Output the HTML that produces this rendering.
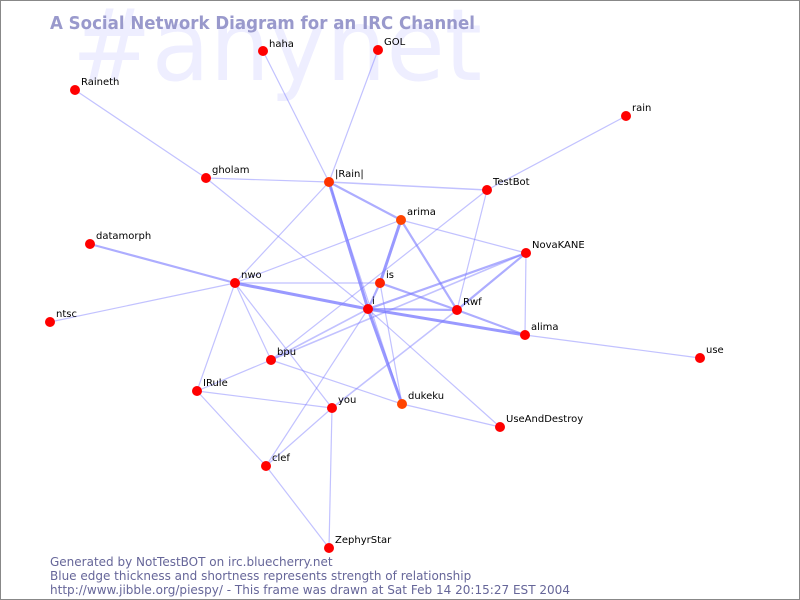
<!DOCTYPE html>
<html><head><meta charset="utf-8"><style>
html,body{margin:0;padding:0;background:#fff;}
svg{display:block;}
text{font-family:"DejaVu Sans","Liberation Sans",sans-serif;}
</style></head><body>
<svg width="800" height="600" viewBox="0 0 800 600" xmlns="http://www.w3.org/2000/svg">
<rect x="0.5" y="0.5" width="799" height="599" fill="#fff" stroke="#888" stroke-width="1"/>
<text x="72" y="80" font-size="100" fill="#eeeeff" textLength="410" lengthAdjust="spacingAndGlyphs">#anynet</text>
<text x="50" y="29" font-size="18" font-weight="bold" fill="#9999cc" textLength="425" lengthAdjust="spacingAndGlyphs">A Social Network Diagram for an IRC Channel</text>
<g stroke="#7777ff" stroke-linecap="round" fill="none">
<g stroke-opacity="0.45" stroke-width="1.2">
<line x1="263" y1="51" x2="329" y2="182"/>
<line x1="378" y1="50" x2="329" y2="182"/>
<line x1="75" y1="90" x2="206" y2="178"/>
<line x1="206" y1="178" x2="368" y2="309"/>
<line x1="626" y1="116" x2="487" y2="190"/>
<line x1="206" y1="178" x2="329" y2="182"/>
<line x1="329" y1="182" x2="235" y2="283"/>
<line x1="329" y1="182" x2="402" y2="404"/>
<line x1="487" y1="190" x2="457" y2="310"/>
<line x1="487" y1="190" x2="271" y2="360"/>
<line x1="401" y1="220" x2="235" y2="283"/>
<line x1="401" y1="220" x2="526" y2="253"/>
<line x1="50" y1="322" x2="235" y2="283"/>
<line x1="235" y1="283" x2="380" y2="283"/>
<line x1="235" y1="283" x2="271" y2="360"/>
<line x1="235" y1="283" x2="197" y2="391"/>
<line x1="235" y1="283" x2="332" y2="408"/>
<line x1="380" y1="283" x2="402" y2="404"/>
<line x1="368" y1="309" x2="500" y2="427"/>
<line x1="368" y1="309" x2="266" y2="466"/>
<line x1="526" y1="253" x2="525" y2="335"/>
<line x1="525" y1="335" x2="700" y2="358"/>
<line x1="271" y1="360" x2="197" y2="391"/>
<line x1="271" y1="360" x2="402" y2="404"/>
<line x1="402" y1="404" x2="500" y2="427"/>
<line x1="197" y1="391" x2="332" y2="408"/>
<line x1="197" y1="391" x2="266" y2="466"/>
<line x1="332" y1="408" x2="266" y2="466"/>
<line x1="332" y1="408" x2="329" y2="548"/>
<line x1="266" y1="466" x2="329" y2="548"/>
<line x1="329" y1="182" x2="487" y2="190" stroke-width="1.6"/>
<line x1="526" y1="253" x2="271" y2="360" stroke-width="1.6"/>
<line x1="457" y1="310" x2="332" y2="408" stroke-width="1.6"/>
<line x1="368" y1="309" x2="271" y2="360" stroke-width="1.6"/>
</g>
<g stroke-opacity="0.6" stroke-width="2.2">
<line x1="329" y1="182" x2="401" y2="220"/>
<line x1="401" y1="220" x2="457" y2="310"/>
<line x1="90" y1="244" x2="235" y2="283"/>
<line x1="526" y1="253" x2="457" y2="310"/>
<line x1="526" y1="253" x2="368" y2="309"/>
<line x1="380" y1="283" x2="457" y2="310"/>
<line x1="457" y1="310" x2="525" y2="335"/>
<line x1="368" y1="309" x2="457" y2="310"/>
<line x1="380" y1="283" x2="368" y2="309"/>
</g>
<g stroke-opacity="0.75" stroke-width="3">
<line x1="329" y1="182" x2="368" y2="309"/>
<line x1="401" y1="220" x2="380" y2="283"/>
<line x1="235" y1="283" x2="368" y2="309"/>
<line x1="368" y1="309" x2="525" y2="335"/>
<line x1="368" y1="309" x2="402" y2="404"/>
</g>
</g>
<g fill="#ff0000">
<circle cx="263" cy="51" r="5"/><circle cx="378" cy="50" r="5"/><circle cx="75" cy="90" r="5"/>
<circle cx="626" cy="116" r="5"/><circle cx="206" cy="178" r="5"/><circle cx="329" cy="182" r="5" fill="#ff3300"/>
<circle cx="487" cy="190" r="5"/><circle cx="401" cy="220" r="5" fill="#ff4400"/><circle cx="90" cy="244" r="5"/>
<circle cx="526" cy="253" r="5"/><circle cx="235" cy="283" r="5"/><circle cx="380" cy="283" r="5" fill="#ff2200"/>
<circle cx="368" cy="309" r="5"/><circle cx="457" cy="310" r="5"/><circle cx="50" cy="322" r="5"/>
<circle cx="525" cy="335" r="5"/><circle cx="271" cy="360" r="5"/><circle cx="700" cy="358" r="5"/>
<circle cx="197" cy="391" r="5"/><circle cx="332" cy="408" r="5"/><circle cx="402" cy="404" r="5" fill="#ff4400"/>
<circle cx="500" cy="427" r="5"/><circle cx="266" cy="466" r="5"/><circle cx="329" cy="548" r="5"/>
</g>
<g font-size="10" fill="#000">
<text x="269" y="47">haha</text><text x="384" y="45">GOL</text><text x="81" y="85">Raineth</text>
<text x="632" y="111">rain</text><text x="212" y="173">gholam</text><text x="335" y="177">|Rain|</text>
<text x="493" y="185">TestBot</text><text x="407" y="215">arima</text><text x="96" y="239">datamorph</text>
<text x="532" y="248">NovaKANE</text><text x="241" y="278">nwo</text><text x="386" y="278">is</text>
<text x="372" y="304">i</text><text x="463" y="305">Rwf</text><text x="56" y="317">ntsc</text>
<text x="531" y="330">alima</text><text x="277" y="355">bpu</text><text x="706" y="353">use</text>
<text x="203" y="386">IRule</text><text x="338" y="403">you</text><text x="408" y="399">dukeku</text>
<text x="506" y="422">UseAndDestroy</text><text x="272" y="461">clef</text><text x="335" y="543">ZephyrStar</text>
</g>
<g font-size="12" fill="#666699">
<text x="50" y="566">Generated by NotTestBOT on irc.bluecherry.net</text>
<text x="50" y="580">Blue edge thickness and shortness represents strength of relationship</text>
<text x="50" y="594" textLength="520" lengthAdjust="spacingAndGlyphs">http://www.jibble.org/piespy/ - This frame was drawn at Sat Feb 14 20:15:27 EST 2004</text>
</g>
</svg>
</body></html>
